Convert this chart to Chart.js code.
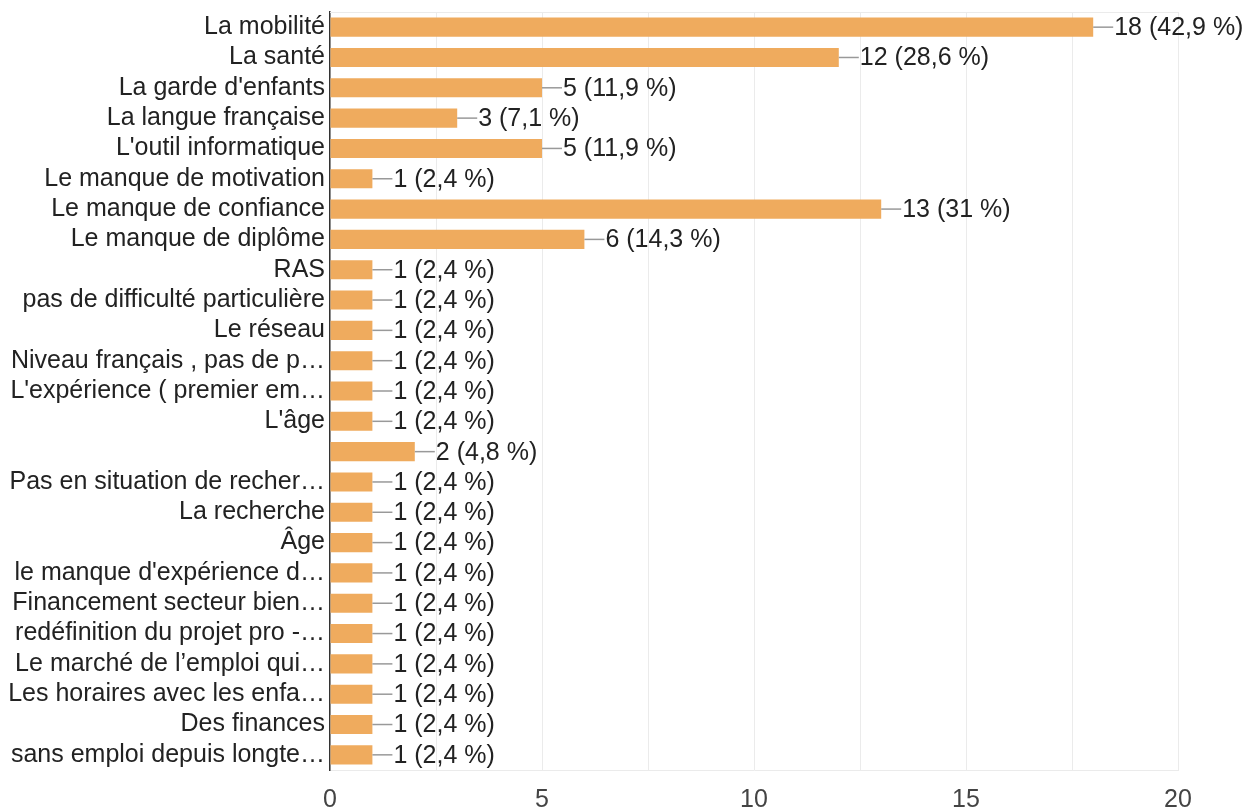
<!DOCTYPE html>
<html>
<head>
<meta charset="utf-8">
<script src="https://cdn.jsdelivr.net/npm/chart.js@4/dist/chart.umd.min.js"></script>
<style>
  html, body { margin: 0; padding: 0; background: #fff; }
  #wrap { width: 1257px; height: 810px; }
</style>
</head>
<body>
<div id="wrap"><canvas id="chart" width="1257" height="810"></canvas></div>
<script>
// Answers, counts and the percent shown next to each bar
const categories = [
    'La mobilité', 'La santé', "La garde d'enfants", 'La langue française',
    "L'outil informatique", 'Le manque de motivation', 'Le manque de confiance',
    'Le manque de diplôme', 'RAS', 'pas de difficulté particulière', 'Le réseau',
    'Niveau français , pas de p…', "L'expérience ( premier em…", "L'âge", '',
    'Pas en situation de recher…', 'La recherche', 'Âge', "le manque d'expérience d…",
    'Financement secteur bien…', 'redéfinition du projet pro -…', 'Le marché de l’emploi qui…',
    'Les horaires avec les enfa…', 'Des finances', 'sans emploi depuis longte…'
];
const counts = [18, 12, 5, 3, 5, 1, 13, 6, 1, 1, 1, 1, 1, 1, 2, 1, 1, 1, 1, 1, 1, 1, 1, 1, 1];
const percents = ['42,9', '28,6', '11,9', '7,1', '11,9', '2,4', '31', '14,3', '2,4', '2,4',
    '2,4', '2,4', '2,4', '2,4', '4,8', '2,4', '2,4', '2,4', '2,4', '2,4', '2,4', '2,4',
    '2,4', '2,4', '2,4'];
const xTicks = [0, 5, 10, 15, 20];

const FONT = "'Liberation Sans', Arial, sans-serif";

// Gray leader line + "n (p %)" label after every bar
const valueLabels = {
    id: 'valueLabels',
    afterDatasetsDraw(chart) {
        const ctx = chart.ctx;
        const meta = chart.getDatasetMeta(0);
        ctx.save();
        ctx.font = '25px ' + FONT;
        ctx.textBaseline = 'middle';
        ctx.textAlign = 'left';
        meta.data.forEach((bar, i) => {
            ctx.strokeStyle = '#999';
            ctx.lineWidth = 1.5;
            ctx.beginPath();
            ctx.moveTo(bar.x, bar.y);
            ctx.lineTo(bar.x + 20, bar.y);
            ctx.stroke();
            ctx.fillStyle = '#222';
            ctx.fillText(counts[i] + ' (' + percents[i] + ' %)', bar.x + 21, bar.y + 1);
        });
        ctx.restore();
    }
};

// Light top edge of the plot box
const topEdge = {
    id: 'topEdge',
    beforeDatasetsDraw(chart) {
        const { ctx, chartArea } = chart;
        ctx.save();
        ctx.strokeStyle = '#ebebeb';
        ctx.lineWidth = 1;
        ctx.beginPath();
        ctx.moveTo(chartArea.left, chartArea.top + 0.5);
        ctx.lineTo(chartArea.right, chartArea.top + 0.5);
        ctx.stroke();
        ctx.restore();
    }
};

new Chart(document.getElementById('chart'), {
    type: 'bar',
    data: {
        labels: categories,
        datasets: [{
            data: counts,
            backgroundColor: 'rgb(239, 171, 94)',
            borderWidth: 0,
            categoryPercentage: 1,
            barPercentage: 0.63
        }]
    },
    options: {
        indexAxis: 'y',
        responsive: false,
        animation: false,
        layout: { padding: { top: 12, right: 79, bottom: 0, left: 0 } },
        plugins: { legend: { display: false }, tooltip: { enabled: false } },
        scales: {
            x: {
                min: 0,
                max: 20,
                ticks: {
                    stepSize: 2.5,
                    color: '#444',
                    font: { family: FONT, size: 25 },
                    padding: 15,
                    callback: v => xTicks.includes(v) ? String(v) : ''
                },
                grid: { color: '#ebebeb', drawTicks: false },
                border: { color: '#ebebeb' },
                afterFit: s => { s.height = 40; }
            },
            y: {
                ticks: {
                    color: '#222',
                    font: { family: FONT, size: 25, lineHeight: 0.5 },
                    padding: 5,
                    autoSkip: false
                },
                grid: { display: false, drawTicks: false },
                border: { color: '#333', width: 1.5 },
                afterFit: s => { s.width = 330; }
            }
        }
    },
    plugins: [valueLabels, topEdge]
});
</script>
</body>
</html>
